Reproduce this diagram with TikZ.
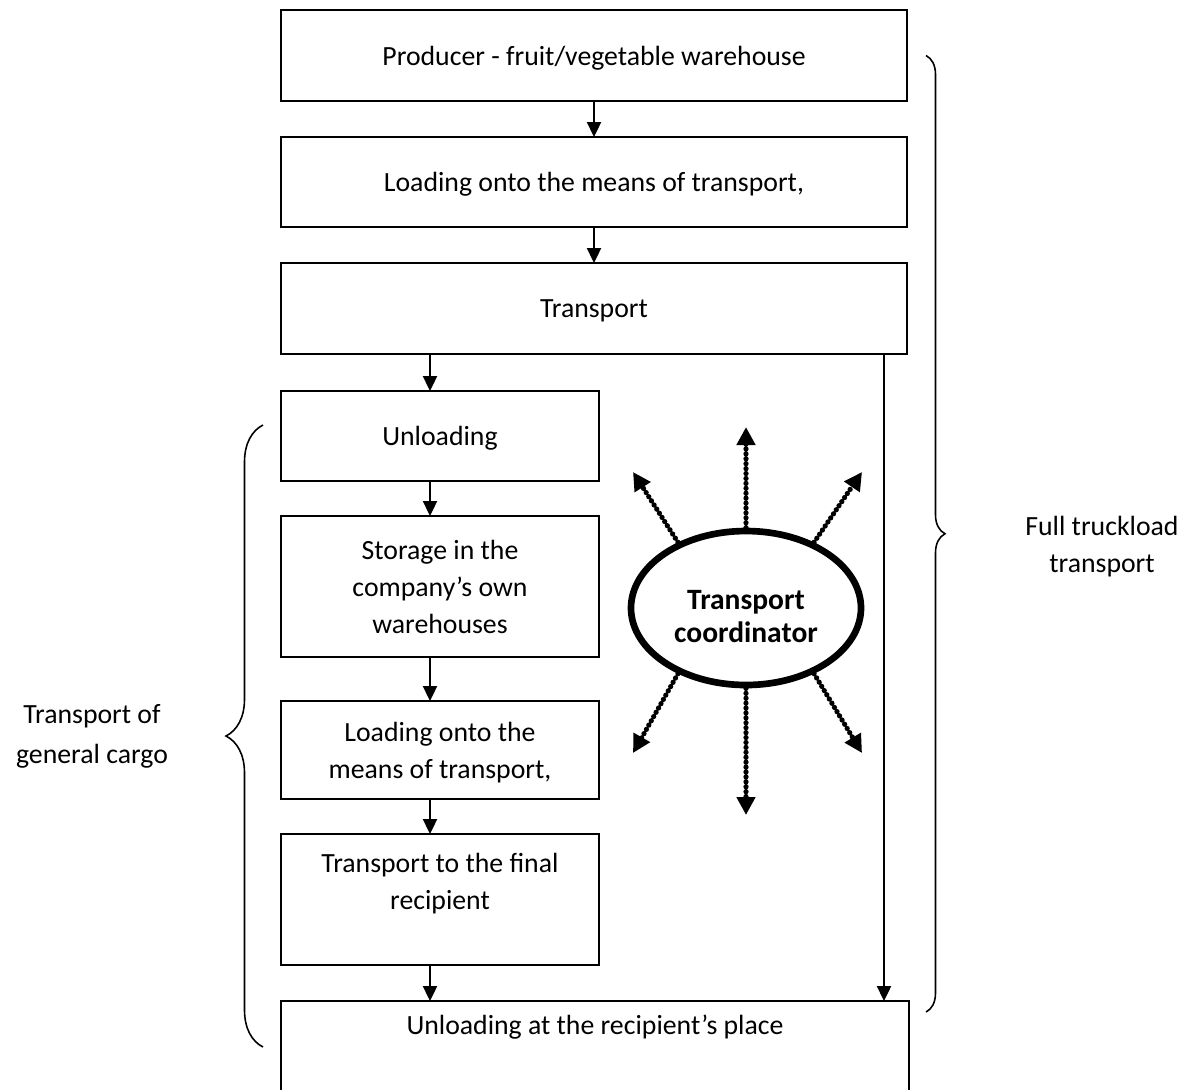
\documentclass[tikz,border=0pt]{standalone}
\usepackage{fontspec}
\setmainfont{Carlito}
\usetikzlibrary{arrows.meta,positioning,calc,shapes.geometric,decorations.pathreplacing}
\newcommand{\boxfont}{\fontsize{15.8pt}{21pt}\selectfont}

\begin{document}
\begin{tikzpicture}[
  node distance=0.72cm,
  stagebox/.style={draw,line width=1.1pt,outer sep=0pt,align=center,font=\boxfont,inner sep=2pt,text depth=0pt},
  widebox/.style={stagebox,minimum width=12.52cm},
  narrowbox/.style={stagebox,minimum width=6.36cm},
  flow/.style={-{Triangle[length=0.3cm,width=0.28cm]},line width=1.3pt},
  radiate/.style={-{Triangle[length=0.36cm,width=0.36cm]},line width=3pt,dash pattern=on 0pt off 2.8pt,line cap=round},
  curly/.style={decorate,decoration={brace,amplitude=#1},line width=0.9pt}
]
\useasboundingbox (0,0) rectangle (23.82,-21.78);
\clip (0,0) rectangle (23.82,-21.78);
\node[widebox,minimum height=1.82cm] (producer) at (11.88,-1.11) {Producer - fruit/vegetable warehouse};
\node[widebox,minimum height=1.80cm,below=of producer] (loadfirst) {Loading onto the means of transport,};
\node[widebox,minimum height=1.82cm,below=of loadfirst] (haul) {Transport};
\node[narrowbox,minimum height=1.80cm,below=0.74cm of haul.south west,anchor=north west] (unload) {Unloading};
\node[narrowbox,minimum height=2.82cm,below=0.70cm of unload] (storage) {Storage in the\\company’s own\\warehouses};
\node[narrowbox,minimum height=1.96cm,below=0.88cm of storage] (loadagain) {Loading onto the\\means of transport,};
\node[narrowbox,minimum height=2.62cm,below=0.70cm of loadagain] (lastmile) {Transport to the final\\recipient\\~};
\node[stagebox,minimum width=12.56cm,text height=0.56cm,text depth=2cm,inner ysep=0.1cm,below=0.72cm of lastmile.south west,anchor=north west] (recipient) {Unloading at the recipient’s place};
\node[ellipse,draw,line width=3.8pt,minimum width=4.6cm,minimum height=3.08cm,inner sep=0pt,font=\fontsize{16.8pt}{18.7pt}\selectfont\bfseries] (coord) at (14.92,-12.16) {\raisebox{-0.38cm}[0pt][0pt]{\begin{tabular}{@{}c@{}}Transport\\coordinator\end{tabular}}};
% flow of the goods
\draw[flow] (producer) -- (loadfirst);
\draw[flow] (loadfirst) -- (haul);
\draw[flow] ([xshift=-0.2cm]unload.north |- haul.south) -- ([xshift=-0.2cm]unload.north);
\draw[flow] ([xshift=-0.2cm]unload.south) -- ([xshift=-0.2cm]storage.north);
\draw[flow] ([xshift=-0.2cm]storage.south) -- ([xshift=-0.2cm]loadagain.north);
\draw[flow] ([xshift=-0.2cm]loadagain.south) -- ([xshift=-0.2cm]lastmile.north);
\draw[flow] ([xshift=-0.2cm]lastmile.south) -- ([xshift=-0.2cm]lastmile.south |- recipient.north);
\coordinate (bypass) at ($(haul.south east)+(-0.46,0)$);
\draw[flow] (bypass) -- (bypass |- recipient.north);
% coordinator arrows
\coordinate (tipN) at (14.92,-8.54);
\coordinate (tipS) at (14.92,-16.30);
\coordinate (tipNW) at (12.66,-9.44);
\coordinate (tipNE) at (17.24,-9.44);
\coordinate (tipSW) at (12.66,-15.06);
\coordinate (tipSE) at (17.24,-15.06);
\draw[radiate] (coord.north) -- (tipN);
\draw[radiate] (coord.south) -- (tipS);
\draw[radiate] (coord.136) -- (tipNW);
\draw[radiate] (coord.44) -- (tipNE);
\draw[radiate] (coord.224) -- (tipSW);
\draw[radiate] (coord.316) -- (tipSE);
% braces
\coordinate (fullTop) at ($(producer.east)+(0.38,0)$);
\coordinate (fullBot) at ($(recipient.north east)+(0.34,-0.22)$);
\draw[curly=0.38cm] (fullTop) -- node[xshift=3.52cm,yshift=-0.26cm,align=center,font=\boxfont]{Full truckload\\transport} (fullBot);
\coordinate (cargoTop) at ($(unload.north west)+(-0.36,-0.68)$);
\coordinate (cargoBot) at ($(recipient.north west)+(-0.36,-0.92)$);
\draw[curly=0.74cm] (cargoBot) -- node[xshift=-3.42cm,align=center,font=\fontsize{15.8pt}{22.7pt}\selectfont]{Transport of\\general cargo} (cargoTop);
\end{tikzpicture}
\end{document}
